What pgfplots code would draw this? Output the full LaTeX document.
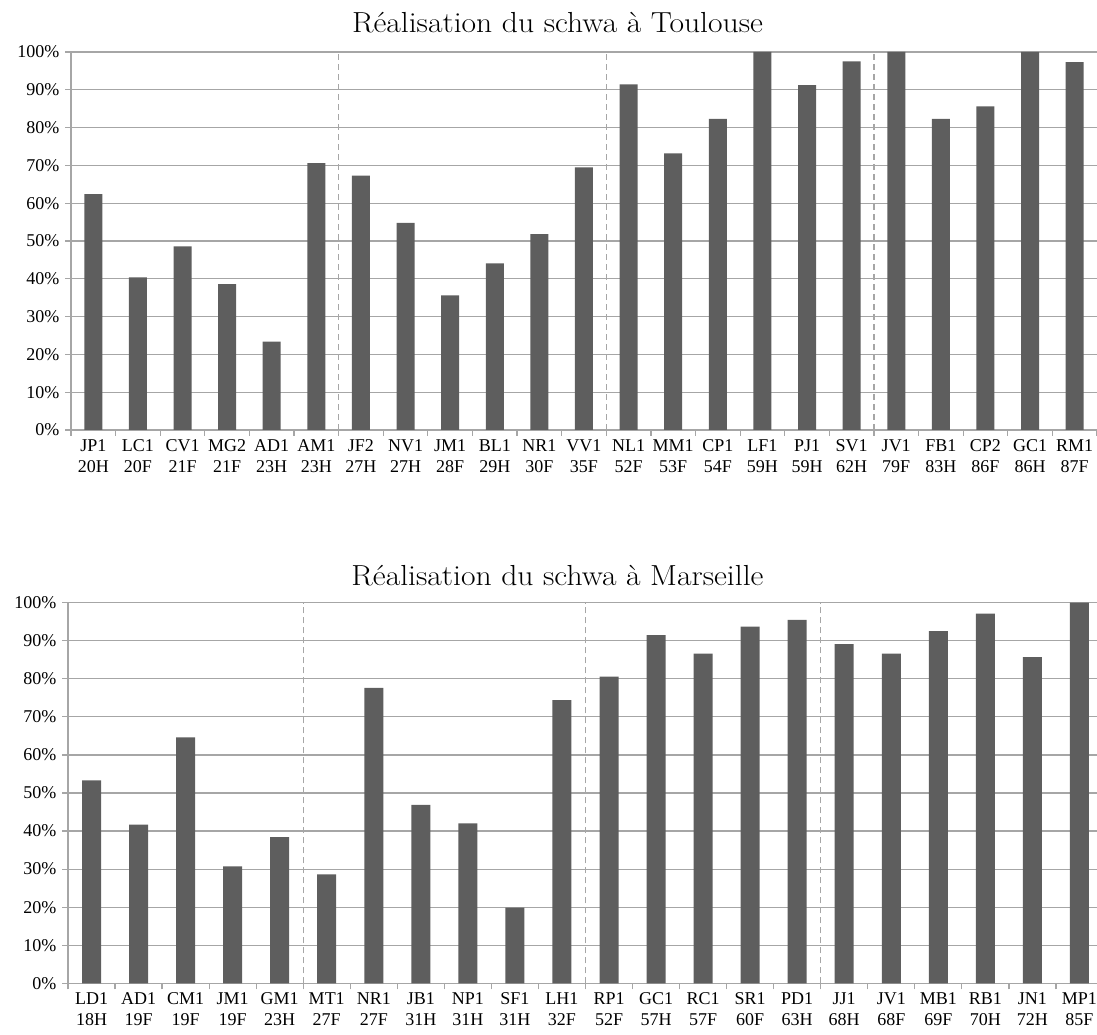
\documentclass[border=0pt]{standalone}
\usepackage{fontspec}
\newfontfamily\tnr{Liberation Serif}
\usepackage{pgfplots}
\pgfplotsset{compat=1.18}
\definecolor{barc}{HTML}{5E5E5E}
\definecolor{gridc}{HTML}{A6A6A6}

\pgfplotsset{schwa/.style={
    scale only axis,
    axis lines*=left,
    axis line style={gridc, line width=1.2pt},
    ymin=0, ymax=100,
    ytick={0,10,...,100},
    yticklabel={\pgfmathprintnumber{\tick}\%},
    /pgf/number format/assume math mode=true,
    ymajorgrids,
    grid style={gridc, line width=1.2pt},
    tick align=outside,
    major tick length=6pt,
    minor tick length=6pt,
    tick style={gridc, line width=1.2pt},
    major x tick style={draw=none},
    minor x tick style={gridc, line width=1.2pt},
    xmin=0,
    enlarge x limits=false,
    ticklabel style={font=\tnr\fontsize{18}{21}\selectfont, text=black},
    yticklabel style={xshift=-2pt},
    xticklabel style={align=center},
    ybar, bar width=18pt,
  }}

\begin{document}
\begin{tikzpicture}
\useasboundingbox (0,0) rectangle (1097pt,1035pt);

% Toulouse
\begin{axis}[schwa,
    at={(71pt,605pt)}, anchor=south west,
    width=1026pt, height=378pt,
    xmax=23,
    xtick={0.5,1.5,...,22.5},
    minor xtick={0,...,23},
    xticklabels={{JP1\\20H},{LC1\\20F},{CV1\\21F},{MG2\\21F},{AD1\\23H},{AM1\\23H},
      {JF2\\27H},{NV1\\27H},{JM1\\28F},{BL1\\29H},{NR1\\30F},{VV1\\35F},
      {NL1\\52F},{MM1\\53F},{CP1\\54F},{LF1\\59H},{PJ1\\59H},{SV1\\62H},
      {JV1\\79F},{FB1\\83H},{CP2\\86F},{GC1\\86H},{RM1\\87F}},
  ]
\addplot[fill=barc, draw=none] coordinates {
  (0.5,62.4) (1.5,40.4) (2.5,48.6) (3.5,38.6) (4.5,23.4) (5.5,70.6)
  (6.5,67.3) (7.5,54.8) (8.5,35.6) (9.5,44.1) (10.5,51.8) (11.5,69.5)
  (12.5,91.4) (13.5,73.2) (14.5,82.3) (15.5,100) (16.5,91.2) (17.5,97.5)
  (18.5,100) (19.5,82.3) (20.5,85.6) (21.5,100) (22.5,97.3)
};
\foreach \s in {6,12,18}{
  \edef\tmp{\noexpand\draw[gridc, line width=1.2pt, dash pattern=on 6pt off 4pt]
    (axis cs:\s,0) -- (axis cs:\s,100);}\tmp
}
\end{axis}

% Marseille
\begin{axis}[schwa,
    at={(68pt,51.7pt)}, anchor=south west,
    width=1035pt, height=380.6pt,
    xmax=22, bar width=19pt,
    xtick={0.5,1.5,...,21.5},
    minor xtick={0,...,22},
    xticklabels={{LD1\\18H},{AD1\\19F},{CM1\\19F},{JM1\\19F},{GM1\\23H},
      {MT1\\27F},{NR1\\27F},{JB1\\31H},{NP1\\31H},{SF1\\31H},{LH1\\32F},
      {RP1\\52F},{GC1\\57H},{RC1\\57F},{SR1\\60F},{PD1\\63H},
      {JJ1\\68H},{JV1\\68F},{MB1\\69F},{RB1\\70H},{JN1\\72H},{MP1\\85F}},
  ]
\addplot[fill=barc, draw=none] coordinates {
  (0.5,53.3) (1.5,41.7) (2.5,64.6) (3.5,30.7) (4.5,38.4)
  (5.5,28.6) (6.5,77.6) (7.5,46.9) (8.5,42.0) (9.5,19.9) (10.5,74.4)
  (11.5,80.6) (12.5,91.5) (13.5,86.6) (14.5,93.7) (15.5,95.5)
  (16.5,89.1) (17.5,86.6) (18.5,92.5) (19.5,97.1) (20.5,85.7) (21.5,100)
};
\foreach \s in {5,11,16}{
  \edef\tmp{\noexpand\draw[gridc, line width=1.2pt, dash pattern=on 6pt off 4pt]
    (axis cs:\s,0) -- (axis cs:\s,100);}\tmp
}
\end{axis}

\node[anchor=base, xscale=1.09, font=\fontsize{29}{34}\selectfont] at (557.5pt,1002pt) {Réalisation du schwa à Toulouse};
\node[anchor=base, xscale=1.09, font=\fontsize{29}{34}\selectfont] at (557.5pt,449pt) {Réalisation du schwa à Marseille};
\end{tikzpicture}
\end{document}
